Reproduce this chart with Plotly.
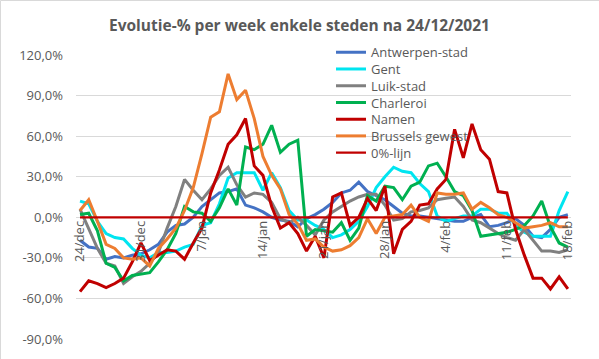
import plotly.graph_objects as go

tick_labels = ["24/dec", "31/dec", "7/jan", "14/jan", "21/jan", "28/jan", "4/feb", "11/feb", "18/feb"]
days = list(range(57))

antwerpen = [-17, -22, -23, -31, -29, -30, -28, -27, -24, -20, -11, -6, -5, 0, 8, 13, 18, 19, 21, 9,
             7, 4, 0, -2, -3, -7, -1, 2, 6, 11, 18, 20, 26, 19, 16, 13, 8, 3, 1, 1,
             0, -1, -2, -3, -3, 0, 2, -7, -6, -4, -1, -6, -14, -15, -9, 0, 2]
gent = [12, 10, -3, -12, -15, -16, -23, -28, -30, -26, -26, -25, -22, -20, -6, -4, 10, 29, 33, 33,
        33, 20, 33, 22, 5, -2, -2, -6, -9, -15, -13, -9, -3, 8, 22, 30, 37, 34, 33, 25,
        19, 1, -3, -1, 1, 1, 6, 6, 3, 3, -6, -11, -14, -14, -14, 5, 19]
luik = [6, -9, -23, -34, -36, -49, -44, -40, -34, -26, -8, 8, 28, 20, 13, 21, 31, 37, 24, 15,
        18, 17, 11, -1, -4, 0, -6, -13, -2, 4, 8, 12, 15, 17, 17, 9, -2, -1, 4, 5,
        7, 13, 14, 15, 8, -2, -4, -8, -12, -15, -17, -9, -17, -25, -25, -26, -24]
charleroi = [2, 3, -10, -34, -37, -47, -43, -42, -41, -33, -24, -12, 8, 4, 3, -3, 7, 21, 9, 52,
             50, 54, 68, 48, 54, 57, -14, -9, -10, -11, -4, -17, -8, 16, 12, 23, 22, 13, 23, 26,
             38, 40, 30, 19, 16, 5, -14, -13, -12, -11, -9, -6, 1, 12, -7, -19, -22]
namen = [-55, -47, -49, -52, -49, -45, -33, -19, -32, -28, -24, -25, -31, -19, -8, 18, 35, 54, 61, 73,
         38, 31, 8, -8, -4, -12, -25, -14, -30, 15, 18, -6, 0, 14, 5, 23, -27, -9, -3, 9,
         10, 21, 28, 65, 44, 69, 50, 43, 19, 18, -9, -28, -45, -45, -53, -44, -53]
brussels = [5, 13, -3, -20, -23, -30, -31, -30, -36, -23, -16, -8, 5, 22, 47, 74, 78, 106, 87, 94,
            73, 45, 31, 21, 2, -5, -17, -16, -22, -25, -24, -21, -15, -1, -12, 0, 1, 2, 9, 0,
            -3, 18, 17, 17, 18, 6, 11, 7, 2, 0, -4, -8, -7, -6, -4, -7, -7]
nul_lijn = [0] * 57

series = [
    ("Antwerpen-stad", antwerpen, "#4472C4", 3),
    ("Gent", gent, "#00E5F0", 3),
    ("Luik-stad", luik, "#808080", 3),
    ("Charleroi", charleroi, "#00B050", 3),
    ("Namen", namen, "#C00000", 3),
    ("Brussels gewest", brussels, "#ED7D31", 3),
    ("0%-lijn", nul_lijn, "#C00000", 2.2),
]

FONT = "Open Sans"
GREY = "#595959"

# plot area geometry (pixels)
L, R, T, B = 76, 28, 55, 20
W, H = 599, 359
ph = H - T - B

fig = go.Figure()
legend_layout = {}
for i, (name, vals, col, w) in enumerate(series):
    lname = "legend" if i == 0 else f"legend{i+1}"
    fig.add_trace(go.Scatter(x=days, y=vals, mode="lines", name=name,
                             line=dict(color=col, width=w), legend=lname))
    cy = 52.3 + 16.73 * i
    legend_layout[lname] = dict(
        x=(331 - L) / (W - L - R), y=(H - B - cy) / ph, xanchor="left", yanchor="middle",
        bgcolor="rgba(0,0,0,0)", borderwidth=0,
        font=dict(family=FONT, size=13, color=GREY),
    )

yvals = [-90, -60, -30, 0, 30, 60, 90, 120]
fig.update_layout(
    width=W, height=H,
    margin=dict(l=L, r=R, t=T, b=B, autoexpand=False),
    paper_bgcolor="white", plot_bgcolor="white",
    showlegend=True,
    title=dict(text="<b>Evolutie-% per week enkele steden na 24/12/2021</b>",
               x=0.5, xref="container", xanchor="center",
               y=1 - 26 / H, yref="container", yanchor="middle",
               font=dict(family=FONT, size=15.5, color=GREY)),
    xaxis=dict(range=[-0.46, 56.36], tickvals=[0, 7, 14, 21, 28, 35, 42, 49, 56],
               ticktext=tick_labels, tickangle=-90, showgrid=False, zeroline=False,
               showline=False, ticks="", anchor="free", position=90 / 210,
               tickfont=dict(family=FONT, size=13, color=GREY)),
    yaxis=dict(range=[-90, 120], tickvals=yvals,
               ticktext=[f"{v},0%" for v in yvals], showgrid=True,
               gridcolor="#D9D9D9", gridwidth=1, zeroline=False, showline=False,
               ticks="", ticklabelstandoff=12,
               tickfont=dict(family=FONT, size=13, color=GREY)),
    shapes=[
        dict(type="line", xref="paper", yref="paper",
             x0=(0.5 - L) / (W - L - R), x1=(W - L) / (W - L - R),
             y0=(H - B - 0.5) / ph, y1=(H - B - 0.5) / ph,
             line=dict(color="#D9D9D9", width=1)),
        dict(type="line", xref="paper", yref="paper",
             x0=(0.5 - L) / (W - L - R), x1=(0.5 - L) / (W - L - R),
             y0=-B / ph, y1=(H - B - 0.5) / ph,
             line=dict(color="#D9D9D9", width=1)),
    ],
    **legend_layout,
)

fig.write_html("out.html", config={"displayModeBar": False},
               post_script="document.body.style.margin='0';")
